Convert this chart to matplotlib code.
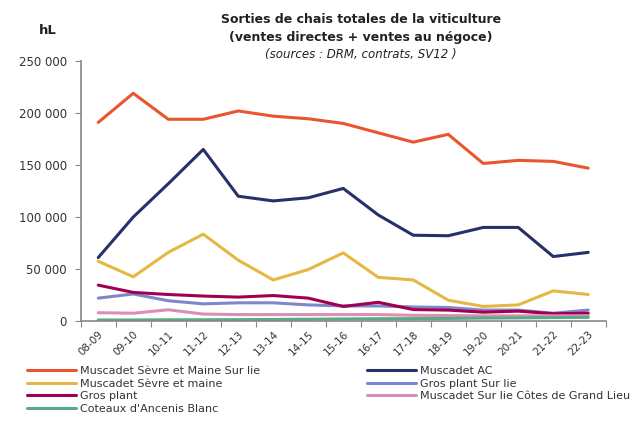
import numpy as np
import matplotlib.pyplot as plt
from matplotlib.ticker import FuncFormatter

campagnes = ['08-09', '09-10', '10-11', '11-12', '12-13', '13-14', '14-15', '15-16',
             '16-17', '17-18', '18-19', '19-20', '20-21', '21-22', '22-23']

sevre_sur_lie = [191000, 219000, 194000, 194000, 202000, 197000, 194500, 190000,
                 181000, 172000, 179500, 151500, 154500, 153500, 147000]
muscadet_ac = [61000, 100000, 132000, 165000, 120000, 115500, 118500, 127500,
               102000, 82500, 82000, 90000, 90000, 62000, 66000]
sevre_maine = [57500, 42500, 66000, 83500, 58500, 39500, 49500, 65500,
               42000, 39500, 20000, 14000, 15500, 29000, 25500]
gp_sur_lie = [22000, 26000, 19500, 16500, 17500, 17500, 15500, 14500,
              14500, 13500, 13000, 10500, 10500, 7500, 10500]
gros_plant = [34500, 27500, 25500, 24000, 23000, 24500, 22000, 14000,
              18000, 11000, 10500, 8500, 9500, 7000, 7500]
grand_lieu = [8000, 7500, 10800, 6700, 6200, 6200, 6200, 6200,
              6200, 5500, 5200, 5000, 5000, 5000, 5000]
ancenis = [1000, 1000, 1200, 1200, 1300, 1500, 1700, 2000,
           2200, 2300, 2500, 2800, 3000, 3300, 3500]

series = [
    ('Muscadet Sèvre et Maine Sur lie', sevre_sur_lie, '#E9552E'),
    ('Muscadet AC', muscadet_ac, '#263069'),
    ('Muscadet Sèvre et maine', sevre_maine, '#E4B843'),
    ('Gros plant Sur lie', gp_sur_lie, '#7F86C9'),
    ('Gros plant', gros_plant, '#A0004F'),
    ('Muscadet Sur lie Côtes de Grand Lieu', grand_lieu, '#DD8FB3'),
    ("Coteaux d'Ancenis Blanc", ancenis, '#5AAA88'),
]

fig = plt.figure(figsize=(6.41, 4.21), dpi=100)
ax = fig.add_axes([0.126, 0.2375, 0.819, 0.6175])

x = np.arange(len(campagnes))
handles = {}
for name, vals, col in series:
    h, = ax.plot(x, vals, color=col, lw=2.2, solid_capstyle='round', solid_joinstyle='round')
    handles[name] = h

ax.set_xlim(-0.5, len(campagnes) - 0.5)
ax.set_ylim(0, 250000)
ax.set_yticks(np.arange(0, 250001, 50000))
ax.yaxis.set_major_formatter(FuncFormatter(lambda v, p: f'{int(v):,}'.replace(',', ' ')))

# Excel-style ticks between categories, labels at centres
ax.set_xticks(np.arange(-0.5, len(campagnes), 1.0))
ax.set_xticklabels([])
ax.set_xticks(x, minor=True)
ax.set_xticklabels(campagnes, minor=True, rotation=45, ha='right', rotation_mode='anchor')
ax.tick_params(axis='x', which='minor', length=0, pad=6, labelsize=7.5, colors='#333333')
ax.tick_params(axis='x', which='major', length=4, color='#888888')
ax.tick_params(axis='y', length=4, color='#888888', labelsize=8.5, labelcolor='#333333', pad=6)

for s in ['top', 'right']:
    ax.spines[s].set_visible(False)
for s in ['left', 'bottom']:
    ax.spines[s].set_color('#888888')
    ax.spines[s].set_linewidth(1.2)

fig.text(0.075, 0.927, 'hL', fontsize=9.5, fontweight='bold', ha='center', va='center', color='#222222')
fig.text(0.563, 0.953, 'Sorties de chais totales de la viticulture', fontsize=9, fontweight='bold',
         ha='center', va='center', color='#222222')
fig.text(0.563, 0.911, '(ventes directes + ventes au négoce)', fontsize=9, fontweight='bold',
         ha='center', va='center', color='#222222')
fig.text(0.563, 0.871, '(sources : DRM, contrats, SV12 )', fontsize=8.5, style='italic',
         ha='center', va='center', color='#222222')

order = ['Muscadet Sèvre et Maine Sur lie', 'Muscadet Sèvre et maine', 'Gros plant',
         "Coteaux d'Ancenis Blanc", 'Muscadet AC', 'Gros plant Sur lie',
         'Muscadet Sur lie Côtes de Grand Lieu']
leg = fig.legend([handles[n] for n in order], order, ncol=2, loc='upper left',
                 bbox_to_anchor=(0.042, 0.13), frameon=False, fontsize=8,
                 handlelength=4.4, handletextpad=0.4, columnspacing=9.6,
                 labelspacing=0.22, borderaxespad=0, borderpad=0)
for t in leg.get_texts():
    t.set_color('#333333')

fig.savefig('out.png', dpi=100)
